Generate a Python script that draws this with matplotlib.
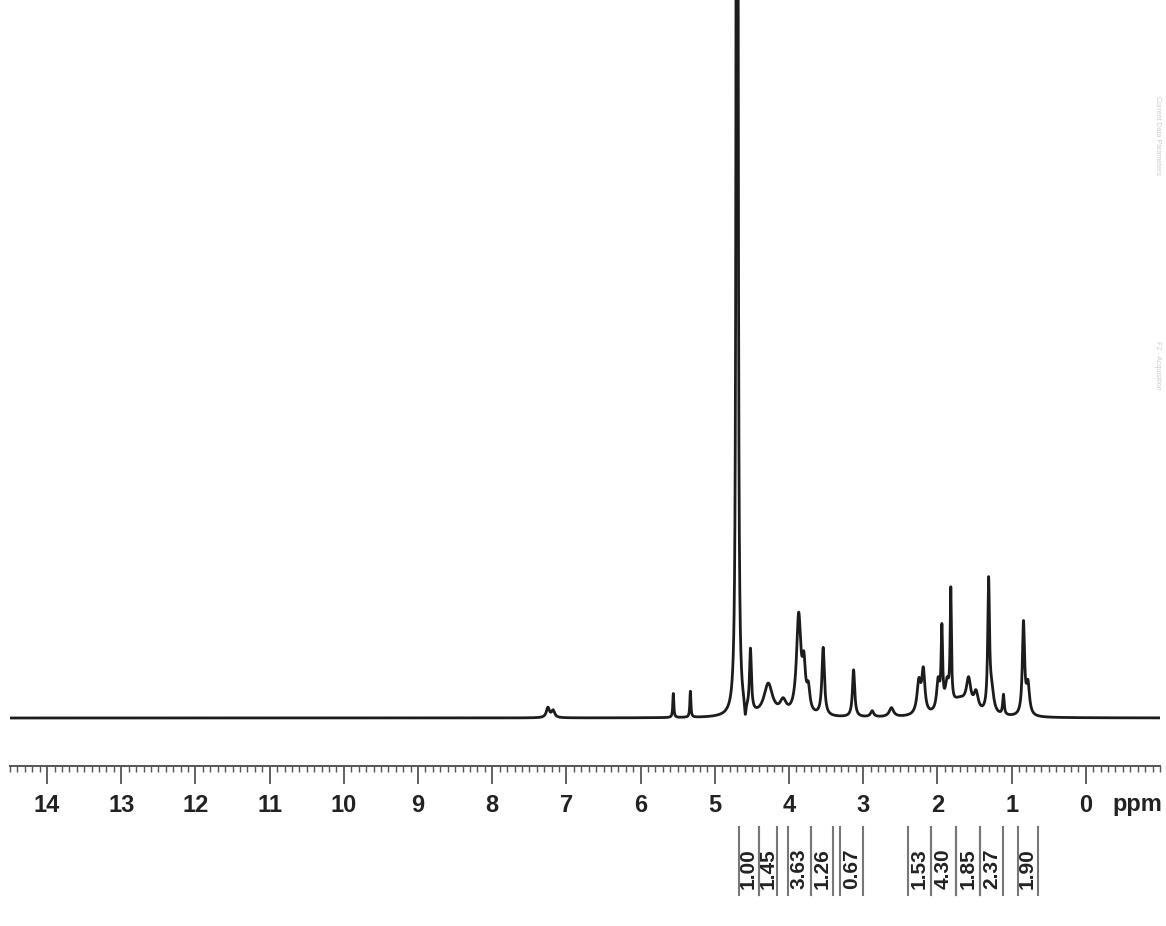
import numpy as np
import matplotlib
matplotlib.use("Agg")
import matplotlib.pyplot as plt
from matplotlib.ticker import MultipleLocator
from matplotlib.transforms import blended_transform_factory

plt.rcParams['font.family'] = ['Liberation Sans', 'DejaVu Sans']

# peak list: shift (ppm), height (a.u.), half width (ppm)
peak_ppm = [7.25, 7.18, 5.56, 5.33, 4.70, 4.59, 4.52, 4.28, 4.08, 3.87, 3.80, 3.74,
            3.54, 3.13, 2.88, 2.62, 2.25, 2.19, 1.99, 1.94, 1.87, 1.82, 1.70, 1.58,
            1.48, 1.31, 1.27, 1.11, 0.84, 0.78]
peak_height = [10, 7, 24, 26, 20000, -15, 62, 32, 13, 98, 42, 22,
               68, 47, 6, 9, 32, 42, 30, 78, 25, 112, 16, 28,
               18, 128, 22, 20, 92, 30]
peak_width = [0.025, 0.025, 0.008, 0.008, 0.0029, 0.012, 0.015, 0.07, 0.05, 0.035, 0.025, 0.025,
              0.02, 0.018, 0.025, 0.035, 0.03, 0.025, 0.025, 0.012, 0.03, 0.01, 0.15, 0.035,
              0.035, 0.014, 0.035, 0.012, 0.018, 0.025]

# integration regions (ppm) and values
int_left = [4.68, 4.41, 4.01, 3.71, 3.31, 2.39, 2.09, 1.75, 1.42, 0.92]
int_right = [4.41, 4.16, 3.71, 3.41, 3.00, 2.09, 1.75, 1.42, 1.12, 0.65]
int_labels = ["1.00", "1.45", "3.63", "1.26", "0.67", "1.53", "4.30", "1.85", "2.37", "1.90"]

tick_values = list(range(14, -1, -1))

ppm = np.arange(14.5, -1.0, -0.0004)
spec = np.zeros_like(ppm)
for c, h, w in zip(peak_ppm, peak_height, peak_width):
    spec += h * w**2 / ((ppm - c)**2 + w**2)

fig = plt.figure(figsize=(11.66, 9.26), dpi=100)
ax = fig.add_axes([10 / 1166, 160 / 926, 1150 / 1166, 766 / 926])
ax.plot(ppm, spec, color='#1c1c1c', lw=2.0)
ax.set_xlim(14.5, -1.0)
ax.set_ylim(-48, 718)

for s in ['top', 'left', 'right']:
    ax.spines[s].set_visible(False)
ax.spines['bottom'].set_color('#555555')
ax.spines['bottom'].set_linewidth(1.4)
ax.set_yticks([])
ax.set_xticks(tick_values)
ax.set_xticklabels([str(t) for t in tick_values], fontsize=17, fontweight='bold', color='#222222')
ax.xaxis.set_minor_locator(MultipleLocator(0.1))
ax.tick_params(axis='x', which='major', length=13, width=1.3, color='#555555', pad=7)
ax.tick_params(axis='x', which='minor', length=4, width=1.0, color='#555555')

trans = blended_transform_factory(ax.transData, fig.transFigure)
ax.text(-0.70, 121 / 926, "ppm", transform=trans, fontsize=17, fontweight='bold',
        color='#222222', ha='center', va='center')

# integral brackets
y_top = (926 - 827) / 926
y_bot = (926 - 895) / 926
for l, r, lab in zip(int_left, int_right, int_labels):
    for xb in (l, r):
        ax.plot([xb, xb], [y_bot, y_top], transform=trans, color='#777777', lw=1.5, clip_on=False)
    ax.text((l + r) / 2, (926 - 869) / 926, lab, transform=trans, rotation=90,
            fontsize=15, fontweight='bold', color='#222222', ha='center', va='center')

# faint parameter text at top right
fig.text(1157 / 1166, 1 - 135 / 926, "Current Data Parameters", rotation=-90,
         fontsize=5, color='#cccccc', ha='center', va='center')
fig.text(1157 / 1166, 1 - 365 / 926, "F2 - Acquisition", rotation=-90,
         fontsize=5, color='#cccccc', ha='center', va='center')

fig.savefig("out.png", dpi=100)
